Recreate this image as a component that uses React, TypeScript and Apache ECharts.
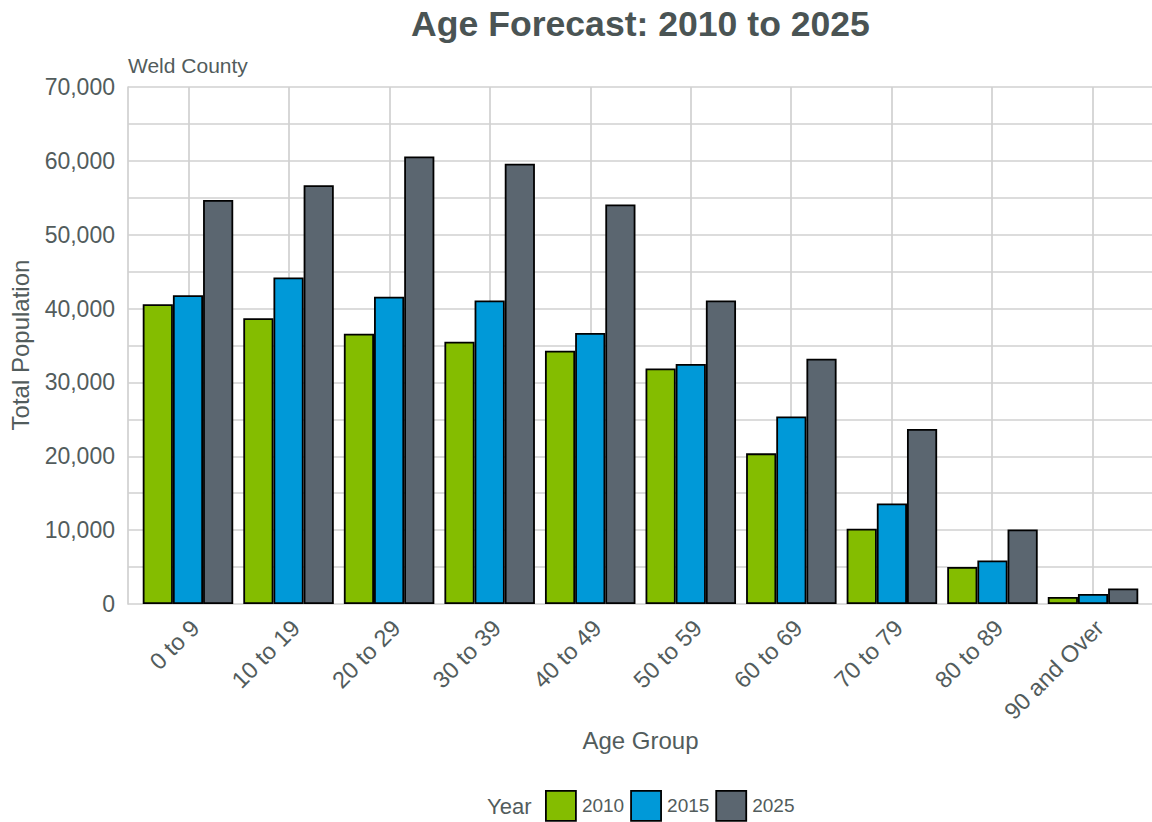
import React, { useEffect, useRef } from "react";
import * as echarts from "echarts";

const ageGroups = [
  "0 to 9",
  "10 to 19",
  "20 to 29",
  "30 to 39",
  "40 to 49",
  "50 to 59",
  "60 to 69",
  "70 to 79",
  "80 to 89",
  "90 and Over",
];
const years = ["2010", "2015", "2025"];
const pop2010 = [40600, 38700, 36600, 35500, 34300, 31900, 20400, 10200, 5000, 950];
const pop2015 = [41800, 44200, 41600, 41100, 36700, 32500, 25400, 13600, 5900, 1350];
const pop2025 = [54700, 56700, 60600, 59600, 54100, 41100, 33200, 23700, 10100, 2100];
const yMin = 0;
const yMax = 70000;
const yStep = 10000;

const FONT = "'Liberation Sans', Arial, Helvetica, sans-serif";
const TEXT = "#525c5c";
const GRID_LINE = "#d0d0d0";
const COLORS = ["#84bd00", "#0099d8", "#5b6670"];

export default function App() {
  const ref = useRef<HTMLDivElement>(null);

  useEffect(() => {
    if (!ref.current) return;
    const chart = echarts.init(ref.current, undefined, { renderer: "svg" });
    const seriesData = [pop2010, pop2015, pop2025];
    const top = 87;
    const bottom = 218;

    const hiddenY = (gi: number) => ({
      type: "value",
      gridIndex: gi,
      min: yMin,
      max: yMax,
      interval: yStep,
      show: false,
    });

    chart.setOption({
      animation: false,
      textStyle: { fontFamily: FONT },
      grid: [
        { left: 128, right: 0, top, bottom },
        { left: 137.7, right: 8.7, top, bottom },
        { left: 188.3, right: 59.3, top, bottom },
        { left: 195.3, right: 52.3, top, bottom },
      ],
      xAxis: [
        { type: "value", gridIndex: 0, min: 0, max: 1, show: false },
        {
          type: "category",
          gridIndex: 1,
          data: ageGroups,
          boundaryGap: true,
          axisLine: { show: false },
          axisTick: { show: false },
          axisLabel: { show: false },
          splitLine: { show: false },
        },
        {
          type: "category",
          gridIndex: 2,
          data: ageGroups,
          boundaryGap: false,
          axisLine: { show: false },
          axisTick: { show: false },
          axisLabel: { show: false },
          splitLine: {
            show: true,
            interval: 0,
            lineStyle: { color: GRID_LINE, width: 1.7 },
          },
        },
        {
          type: "category",
          gridIndex: 3,
          data: ageGroups,
          boundaryGap: false,
          axisLine: { show: false },
          axisTick: { show: false },
          splitLine: { show: false },
          axisLabel: {
            show: true,
            interval: 0,
            rotate: 45,
            margin: 20,
            fontSize: 23.5,
            color: TEXT,
            fontFamily: FONT,
          },
        },
      ],
      yAxis: [
        {
          type: "value",
          gridIndex: 0,
          min: yMin,
          max: yMax,
          interval: yStep,
          axisLine: { show: true, lineStyle: { color: GRID_LINE, width: 1.7 } },
          axisTick: { show: false },
          axisLabel: {
            fontSize: 23,
            color: TEXT,
            margin: 13,
            fontFamily: FONT,
            formatter: (v: number) => v.toLocaleString("en-US"),
          },
          splitLine: { show: true, lineStyle: { color: GRID_LINE, width: 1.7 } },
          minorTick: { show: false, splitNumber: 2 },
          minorSplitLine: { show: true, lineStyle: { color: GRID_LINE, width: 1.7 } },
        },
        hiddenY(1),
        hiddenY(2),
        hiddenY(3),
      ],
      legend: {
        data: years,
        left: 545,
        top: 790,
        padding: 0,
        orient: "horizontal",
        itemWidth: 30,
        itemHeight: 30,
        itemGap: 6,
        icon: "rect",
        textStyle: { fontSize: 19, color: TEXT, fontFamily: FONT, padding: [0, 0, 0, 1] },
        itemStyle: { borderColor: "#000", borderWidth: 1.8 },
      },
      graphic: [
        {
          type: "text",
          x: 640.5,
          y: 24,
          style: {
            text: "Age Forecast: 2010 to 2025",
            font: `bold 35.6px ${FONT}`,
            fill: "#4a5454",
            align: "center",
            verticalAlign: "middle",
          },
        },
        {
          type: "text",
          x: 128,
          y: 65,
          style: {
            text: "Weld County",
            font: `21px ${FONT}`,
            fill: TEXT,
            align: "left",
            verticalAlign: "middle",
          },
        },
        {
          type: "text",
          x: 20,
          y: 345,
          rotation: Math.PI / 2,
          style: {
            text: "Total Population",
            font: `24px ${FONT}`,
            fill: TEXT,
            align: "center",
            verticalAlign: "middle",
          },
        },
        {
          type: "text",
          x: 640.5,
          y: 740,
          style: {
            text: "Age Group",
            font: `24px ${FONT}`,
            fill: TEXT,
            align: "center",
            verticalAlign: "middle",
          },
        },
        {
          type: "text",
          x: 487,
          y: 806,
          style: {
            text: "Year",
            font: `22px ${FONT}`,
            fill: TEXT,
            align: "left",
            verticalAlign: "middle",
          },
        },
      ],
      series: years.map((y, i) => ({
        name: y,
        type: "bar",
        xAxisIndex: 1,
        yAxisIndex: 1,
        data: seriesData[i],
        barCategoryGap: "10%",
        barGap: "0%",
        itemStyle: { color: COLORS[i], borderColor: "#000", borderWidth: 1.8 },
        emphasis: { disabled: true },
      })),
    });

    return () => {
      chart.dispose();
    };
  }, []);

  return (
    <div
      ref={ref}
      style={{ position: "fixed", left: 0, top: 0, width: 1152, height: 822, background: "#fff" }}
    />
  );
}
